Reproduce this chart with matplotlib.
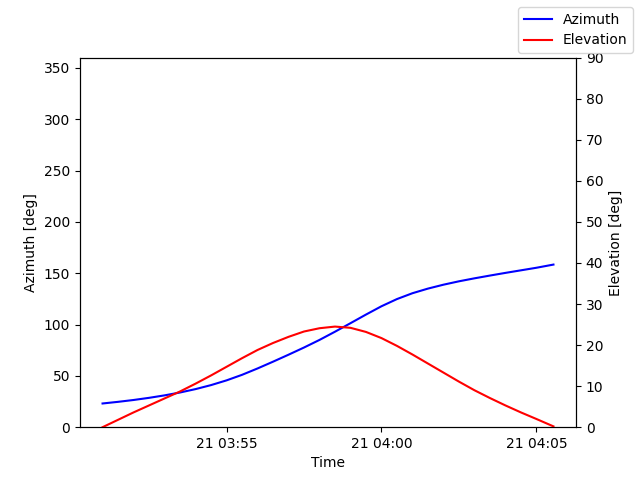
import datetime as dt

import matplotlib
matplotlib.use('Agg')
import matplotlib.pyplot as plt

# pass samples every 30 s, last point at the end of the pass
minutes = [0, 0.5, 1, 1.5, 2, 2.5, 3, 3.5, 4, 4.5, 5, 5.5, 6, 6.5, 7, 7.5,
           8, 8.5, 9, 9.5, 10, 10.5, 11, 11.5, 12, 12.5, 13, 13.5, 14, 14.55]
azimuth = [23.1, 24.7, 26.5, 28.6, 31.0, 33.8, 37.1, 41.0, 45.6, 51.0, 57.2, 63.8,
           70.6, 77.6, 85.0, 93.0, 101.3, 109.7, 117.8, 124.8, 130.5, 135.0,
           138.8, 142.1, 145.0, 147.7, 150.3, 152.8, 155.3, 158.4]
elevation = [0.0, 1.8, 3.6, 5.3, 7.0, 8.7, 10.6, 12.6, 14.7, 16.8, 18.8, 20.5,
             22.0, 23.3, 24.1, 24.5, 24.2, 23.2, 21.7, 19.8, 17.7, 15.5,
             13.3, 11.1, 9.0, 7.1, 5.3, 3.6, 2.0, 0.2]

start = dt.datetime(2023, 3, 21, 3, 51, 0)
times = [start + dt.timedelta(minutes=m) for m in minutes]

fig, ax1 = plt.subplots(figsize=(6.4, 4.8), dpi=100)
ax2 = ax1.twinx()

ax1.plot(times, azimuth, color='blue', label='Azimuth')
ax2.plot(times, elevation, color='red', label='Elevation')

ax1.set_ylim(0, 360)
ax2.set_ylim(0, 90)
ax1.set_xlabel('Time')
ax1.set_ylabel('Azimuth [deg]')
ax2.set_ylabel('Elevation [deg]')

fig.legend(loc='upper right')

fig.savefig('out.png')
